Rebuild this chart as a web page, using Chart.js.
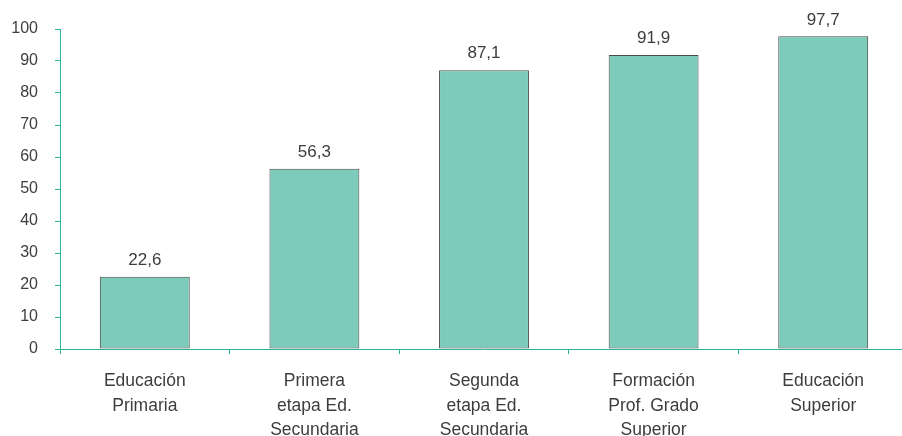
<!DOCTYPE html>
<html>
<head>
<meta charset="utf-8">
<script src="https://cdn.jsdelivr.net/npm/chart.js@4"></script>
<style>
  html, body { margin: 0; padding: 0; background: #fff; overflow: hidden; }
  #wrap { width: 908px; height: 436px; }
</style>
</head>
<body>
<div id="wrap"><canvas id="myChart"></canvas></div>
<script>
const categories = [
  ["Educación", "Primaria"],
  ["Primera", "etapa Ed.", "Secundaria"],
  ["Segunda", "etapa Ed.", "Secundaria"],
  ["Formación", "Prof. Grado", "Superior"],
  ["Educación", "Superior"]
];
const values = [22.6, 56.3, 87.1, 91.9, 97.7];
const yTicks = [0, 10, 20, 30, 40, 50, 60, 70, 80, 90, 100];

const teal = "#2bb39a";
const textColor = "#3d3d3d";
const fontFamily = "'Liberation Sans', Arial, sans-serif";

const valueLabels = {
  id: "valueLabels",
  afterDatasetsDraw(chart) {
    const c = chart.ctx;
    const meta = chart.getDatasetMeta(0);
    c.save();
    c.font = "17px " + fontFamily;
    c.fillStyle = textColor;
    c.textAlign = "center";
    c.textBaseline = "bottom";
    meta.data.forEach((bar, i) => {
      c.fillText(values[i].toFixed(1).replace(".", ","), bar.x, bar.y - 8);
    });
    c.restore();
  }
};

const ctx = document.getElementById("myChart");

const myChart = new Chart(ctx, {
  type: "bar",
  data: {
    labels: categories,
    datasets: [
      {
        data: values,
        backgroundColor: "#7ccbbb",
        borderColor: "#4a4a4a",
        borderWidth: 1,
        borderSkipped: false,
        categoryPercentage: 1,
        barPercentage: 0.53,
      },
    ],
  },
  options: {
    responsive: true,
    maintainAspectRatio: false,
    animation: false,
    layout: { padding: { top: 29, right: 0, left: 0, bottom: 0 } },
    plugins: {
      legend: { display: false },
      tooltip: { enabled: false },
    },
    scales: {
      x: {
        afterFit: (s) => { s.height = 87; },
        grid: {
          display: true,
          offset: true,
          drawOnChartArea: false,
          drawTicks: true,
          tickLength: 5,
          color: teal,
        },
        border: { color: teal, dash: [1, 1], width: 1 },
        ticks: {
          color: textColor,
          font: { family: fontFamily, size: 17.5, lineHeight: 1.4 },
          padding: 15,
          maxRotation: 0,
        },
      },
      y: {
        min: 0,
        max: 100,
        afterFit: (s) => { s.width = 60; },
        afterBuildTicks: (s) => { s.ticks = yTicks.map((v) => ({ value: v })); },
        grid: {
          drawOnChartArea: false,
          drawTicks: true,
          tickLength: 5,
          color: teal,
        },
        border: { color: teal, dash: [1, 1], width: 1 },
        ticks: {
          color: textColor,
          font: { family: fontFamily, size: 16 },
          padding: 17,
        },
      },
    },
  },
  plugins: [valueLabels],
});
</script>
</body>
</html>
